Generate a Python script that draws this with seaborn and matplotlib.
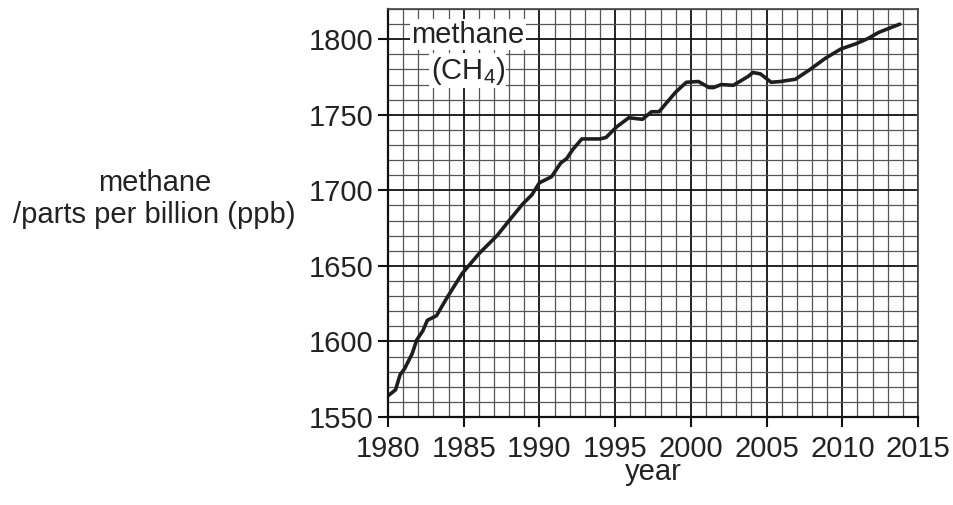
import numpy as np
import pandas as pd
import matplotlib
matplotlib.use("Agg")
import matplotlib.pyplot as plt
from matplotlib.ticker import MultipleLocator
import seaborn as sns

# values
years = [1980.0, 1980.5, 1980.8, 1981.1, 1981.6, 1981.9, 1982.3, 1982.6, 1983.2,
         1983.9, 1984.9, 1986.0, 1987.2, 1988.0, 1988.9, 1989.5, 1990.0, 1990.8,
         1991.4, 1991.8, 1992.2, 1992.8, 1994.0, 1994.4, 1995.1, 1995.9, 1996.8,
         1997.4, 1997.9, 1998.4, 1999.0, 1999.7, 2000.5, 2001.2, 2001.5, 2002.0,
         2002.8, 2003.8, 2004.1, 2004.6, 2005.3, 2005.9, 2006.9, 2007.8, 2008.9,
         2009.9, 2010.9, 2011.7, 2012.4, 2013.8]
methane = [1564, 1568, 1578, 1582, 1592, 1601, 1607, 1614, 1617,
           1629, 1645, 1658, 1670, 1680, 1691, 1697, 1705, 1709,
           1718, 1721, 1727, 1734, 1734, 1735, 1742, 1748, 1747,
           1752, 1752, 1758, 1765, 1771.5, 1772, 1768, 1768, 1770,
           1769.5, 1775.5, 1778, 1777, 1771.5, 1772, 1773.5, 1779.5, 1787.5,
           1793.5, 1797, 1800.5, 1804.5, 1810]

x_ticks = [1980, 1985, 1990, 1995, 2000, 2005, 2010, 2015]
y_ticks = [1550, 1600, 1650, 1700, 1750, 1800]

df = pd.DataFrame({"year": years, "methane": methane})

sns.set_style("white")
plt.rcParams['font.family'] = ['Liberation Sans', 'DejaVu Sans']
plt.rcParams['mathtext.fontset'] = 'custom'
plt.rcParams['mathtext.rm'] = 'Liberation Sans'

fs = 21
txt = '#222222'

fig = plt.figure(figsize=(9.54, 5.05), dpi=100)
ax = fig.add_axes([0.4067, 0.1743, 0.5556, 0.8079])

ax.set_xlim(1980, 2015)
ax.set_ylim(1550, 1820)
ax.xaxis.set_minor_locator(MultipleLocator(1))
ax.yaxis.set_minor_locator(MultipleLocator(10))
ax.set_xticks(x_ticks)
ax.set_yticks(y_ticks)

ax.grid(which='minor', color='#555555', linewidth=0.9)
ax.grid(which='major', color='#111111', linewidth=1.3)
ax.set_axisbelow(True)

sns.lineplot(data=df, x="year", y="methane", ax=ax, color='#1e1e1e',
             linewidth=2.6, errorbar=None, sort=True)

for side in ['left', 'bottom']:
    ax.spines[side].set_linewidth(1.6)
    ax.spines[side].set_color('#111111')
for side in ['right', 'top']:
    ax.spines[side].set_linewidth(1.2)
    ax.spines[side].set_color('#444444')

ax.tick_params(which='major', direction='out', length=7.2, width=1.5,
               color='#111111', labelsize=fs, labelcolor=txt)
ax.tick_params(axis='x', pad=6, bottom=True)
ax.tick_params(axis='y', pad=3, left=True)
ax.tick_params(which='minor', length=0)

ax.set_xlabel("")
ax.set_ylabel("")
fig.text(0.6845, 0.065, "year", ha='center', va='center', fontsize=fs, color=txt)
fig.text(0.162, 0.637, "methane", ha='center', va='center', fontsize=fs, color=txt)
fig.text(0.162, 0.574, "/parts per billion (ppb)", ha='center', va='center',
         fontsize=fs, color=txt)

box = dict(facecolor='white', edgecolor='none', pad=1.0)
ax.text(1985.26, 1803, "methane", ha='center', va='center', fontsize=fs,
        color=txt, bbox=box)
ax.text(1985.26, 1779, r"(CH$_\mathrm{4}$)", ha='center', va='center', fontsize=fs,
        color=txt, bbox=box)

fig.savefig("out.png", dpi=100)
